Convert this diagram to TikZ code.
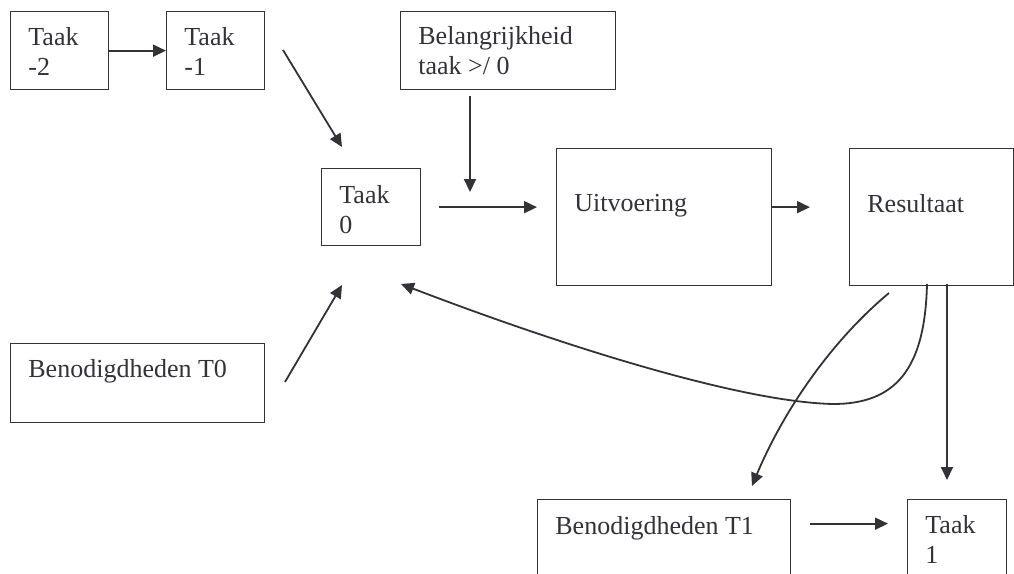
\documentclass[tikz,border=0pt]{standalone}
\usepackage{fontspec}
\setmainfont{Liberation Serif}
\usetikzlibrary{positioning}
\usetikzlibrary{arrows.meta,calc}
\definecolor{ink}{RGB}{50,50,55}

\begin{document}
\begin{tikzpicture}[x=0.5pt, y=-0.5pt,
  box/.style={draw=ink, line width=0.65pt, anchor=north west, inner sep=0pt},
  txt/.style={inner sep=0pt, align=left, text=ink, font=\fontsize{13}{15}\selectfont},
  arr/.style={draw=ink, line width=0.9pt, -{Triangle[length=6.5pt,width=6pt]}}]

 \useasboundingbox (0,0) rectangle (1014,574);
 \clip (0,0) rectangle (1014,574);

 % boxes
 \foreach \n/\x/\y/\w/\h in {t2/10/11/98/78, t1/166/11/98/78, bel/400/11/215/78,
         t0/321/168/99/77, uit/556/148/215/137, res/849/148/164/137,
         ben0/10/343/254/79, ben1/537/499/253/80, tk1/907/499/99/80} {
     \node[box, minimum width=\w*0.5pt, minimum height=\h*0.5pt] (\n) at (\x,\y) {};
 }

 % texts
 \foreach \n/\dy/\s in {t2/8pt/{Taak\\-2}, t1/8pt/{Taak\\-1}, bel/7.5pt/{Belangrijkheid\\taak >/ 0},
         t0/8.5pt/{Taak\\0}, uit/23pt/{Uitvoering}, res/23pt/{Resultaat},
         ben0/8pt/{Benodigdheden T0}, ben1/8.5pt/{Benodigdheden T1}, tk1/8pt/{Taak\\1}} {
     \node[txt, below right=\dy and 9pt of \n.north west] (l\n) {\s};
 }

 % free ends
 \coordinate (a1s) at (283,50);  \coordinate (a1e) at (342,147);
 \coordinate (a2s) at (470,96);  \coordinate (a2e) at (470,192);
 \coordinate (a3s) at (285,382); \coordinate (a3e) at (342,285);
 \coordinate (r1) at (889,293);  \coordinate (b1) at (752,486);
 \coordinate (r2) at (927,284);  \coordinate (f0) at (401,284);
 \coordinate (r3) at (947,284);  \coordinate (k1) at (947,480);

 % lines
 \draw[arr] (t2) -- (t1);
 \foreach \source/\dest in {a1s/a1e, a2s/a2e, a3s/a3e, r3/k1}
     \draw[arr] (\source) -- (\dest);
 \draw[arr, shorten <=9pt, shorten >=9.5pt] (t0.east) -- (uit.west |- t0.east);
 \draw[arr, shorten >=19.5pt] (uit.east |- t0.east) -- (res.west |- t0.east);
 \draw[arr, shorten <=9.5pt, shorten >=9.5pt] ([yshift=8pt]ben1.east) -- ([yshift=8pt]ben1.east -| tk1.west);

 % curves
 \draw[arr] (r1) .. controls (829,343) and (782,414) .. (b1);
 \draw[arr] (r2) .. controls (925,370) and (895,404) .. (833,404)
                 .. controls (740,402) and (560,345) .. (f0);

\end{tikzpicture}
\end{document}
